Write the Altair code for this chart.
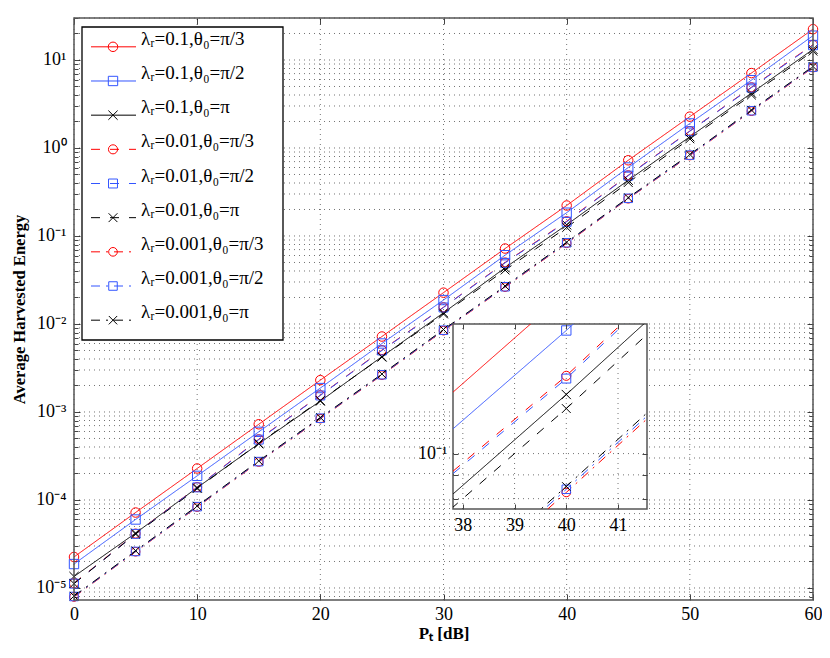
import altair as alt
import pandas as pd

# ---------------- data ----------------
P_dB = [0, 5, 10, 15, 20, 25, 30, 35, 40, 45, 50, 55, 60]

series = [
    "λᵣ=0.1,θ₀=π/3", "λᵣ=0.1,θ₀=π/2", "λᵣ=0.1,θ₀=π",
    "λᵣ=0.01,θ₀=π/3", "λᵣ=0.01,θ₀=π/2", "λᵣ=0.01,θ₀=π",
    "λᵣ=0.001,θ₀=π/3", "λᵣ=0.001,θ₀=π/2", "λᵣ=0.001,θ₀=π",
]

E_01_pi3 = [2.25e-5, 7.2e-5, 2.28e-4, 7.25e-4, 2.3e-3, 7.2e-3, 2.27e-2, 7.2e-2, 0.222, 0.725, 2.27, 7.1, 22.4]
E_01_pi2 = [1.87e-5, 6.0e-5, 1.88e-4, 5.95e-4, 1.87e-3, 6.0e-3, 1.87e-2, 6.05e-2, 0.184, 0.60, 1.9, 5.9, 18.9]
E_01_pi = [1.35e-5, 4.2e-5, 1.38e-4, 4.35e-4, 1.33e-3, 4.25e-3, 1.34e-2, 4.35e-2, 0.134, 0.43, 1.34, 4.2, 13.2]
E_001_pi3 = [1.13e-5, 4.15e-5, 1.40e-4, 4.9e-4, 1.55e-3, 5.05e-3, 1.55e-2, 5.0e-2, 0.147, 0.49, 1.56, 4.9, 14.9]
E_001_pi2 = [1.12e-5, 4.12e-5, 1.39e-4, 4.85e-4, 1.54e-3, 5.0e-3, 1.54e-2, 4.95e-2, 0.145, 0.485, 1.55, 4.85, 14.7]
E_001_pi = [1.12e-5, 4.1e-5, 1.35e-4, 4.4e-4, 1.35e-3, 4.2e-3, 1.30e-2, 4.1e-2, 0.125, 0.405, 1.27, 4.0, 12.6]
E_0001_pi3 = [7.9e-6, 2.58e-5, 8.3e-5, 2.7e-4, 8.4e-4, 2.62e-3, 8.4e-3, 2.62e-2, 0.0825, 0.265, 0.82, 2.62, 8.2]
E_0001_pi2 = [8.0e-6, 2.6e-5, 8.4e-5, 2.73e-4, 8.5e-4, 2.65e-3, 8.5e-3, 2.65e-2, 0.0838, 0.268, 0.83, 2.65, 8.3]
E_0001_pi = [8.1e-6, 2.65e-5, 8.55e-5, 2.78e-4, 8.65e-4, 2.7e-3, 8.65e-3, 2.7e-2, 0.085, 0.273, 0.845, 2.7, 8.45]

values = [E_01_pi3, E_01_pi2, E_01_pi, E_001_pi3, E_001_pi2, E_001_pi,
          E_0001_pi3, E_0001_pi2, E_0001_pi]

# axes / tick labels
x_domain = [0, 60]
y_domain = [7.3e-6, 30]
x_ticks = [0, 10, 20, 30, 40, 50, 60]
y_decades = [1e-5, 1e-4, 1e-3, 1e-2, 1e-1, 1, 10]
y_dec_labels = ["10⁻⁵", "10⁻⁴", "10⁻³", "10⁻²", "10⁻¹", "10⁰", "10¹"]
inset_x_domain = [37.81, 41.56]
inset_y_domain = [0.076, 0.19]
inset_x_ticks = [38, 39, 40, 41]
inset_y_ticks = [0.08, 0.09, 0.1]
inset_y_label = "10⁻¹"

# ---------------- styles / geometry ----------------
FONT = "Liberation Serif"
colors = ["#ff0000", "#3355ff", "#000000"] * 3
dashes = [[1, 0]] * 3 + [[9, 10]] * 3 + [[9, 6, 2, 6]] * 3
XPATH = "M-1,-1L1,1M-1,1L1,-1"
shapes = ["circle", "square", XPATH] * 3
sizes = [90, 70, 60] * 3
FRAME = "#555555"
GRID_STYLE = dict(strokeDash=[1, 4], color="#000000", opacity=0.55, strokeWidth=1)

# view = inset panel (194 x 185); main plot expressed relative to it
IW, IH = 194, 185
ML, MT, MW, MH = -379, -306, 739, 582        # main plot box relative to inset origin
MR, MB = ML + MW, MT + MH
PAD_L, PAD_T = 445, 316
PAD_R, PAD_B = 814 - PAD_L - IW, 642 - PAD_T - IH

rows = []
for name, vals in zip(series, values):
    for p, v in zip(P_dB, vals):
        rows.append({"P": p, "E": v, "series": name})
df = pd.DataFrame(rows)
df_in = df[(df["P"] >= 35) & (df["P"] <= 45)]

color_enc = alt.Color("series:N", scale=alt.Scale(domain=series, range=colors), legend=None)
dash_enc = alt.StrokeDash("series:N", scale=alt.Scale(domain=series, range=dashes), legend=None)
shape_enc = alt.Shape("series:N", scale=alt.Scale(domain=series, range=shapes), legend=None)
size_enc = alt.Size("series:N", scale=alt.Scale(domain=series, range=sizes), legend=None)


def mxs():
    return alt.Scale(domain=x_domain, range=[ML, MR], nice=False, zero=False)


def mys():
    return alt.Scale(type="log", domain=y_domain, range=[MB, MT], nice=False)


def ixs():
    return alt.Scale(domain=inset_x_domain, range=[0, IW], nice=False, zero=False)


def iys():
    return alt.Scale(type="log", domain=inset_y_domain, range=[IH, 0], nice=False)


def tick_axis(orient, vals, size, offset, z=0):
    return alt.Axis(orient=orient, values=vals, offset=offset - size, tickSize=size,
                    tickColor="#444444", tickWidth=1, labels=False, domain=False,
                    grid=False, title=None, zindex=z)


# ---------------- main panel ----------------
y_minor = [m * 10.0 ** e for e in range(-6, 2) for m in range(2, 10)
           if y_domain[0] <= m * 10.0 ** e <= y_domain[1]]
arr = "[" + ",".join("'%s'" % s for s in y_dec_labels) + "]"
lg = "(log(datum.value)/LN10)"
y_label_expr = "abs(%s - round(%s)) < 0.001 ? %s[round(%s) + 5] : ''" % (lg, lg, arr, lg)

off_left, off_right = -ML, MR - IW
off_top, off_bottom = -MT, MB - IH

x_axis_main = alt.Axis(orient="bottom", offset=off_bottom, values=x_ticks, ticks=False, domain=False,
                       grid=False, labelFont=FONT, labelFontSize=18, labelPadding=5, labelFlush=False,
                       labelColor="#000000", labelOverlap=False,
                       title="Pₜ [dB]", titleFont=FONT, titleFontSize=17, titleFontWeight="bold",
                       titleColor="#000000", titlePadding=2, zindex=0)
y_axis_main = alt.Axis(orient="left", offset=off_left, values=y_decades, ticks=False,
                       domain=False, grid=False, labelExpr=y_label_expr, labelFont=FONT, labelFontSize=18,
                       labelPadding=8, labelColor="#000000", labelOverlap=False,
                       title="Average Harvested Energy", titleFont=FONT, titleFontSize=16.5,
                       titleFontWeight="bold", titleColor="#000000", titlePadding=8, zindex=0)

# grid lines (dotted) drawn from the tick value lists
vgrid_df = pd.DataFrame({"x": x_ticks, "y0": y_domain[0], "y1": y_domain[1]})
hgrid_df = pd.DataFrame({"y": y_decades + y_minor, "x0": x_domain[0], "x1": x_domain[1]})
m_vgrid = alt.Chart(vgrid_df).mark_rule(**GRID_STYLE).encode(
    x=alt.X("x:Q", scale=mxs(), axis=None),
    y=alt.Y("y0:Q", scale=mys(), axis=None), y2="y1:Q")
m_hgrid = alt.Chart(hgrid_df).mark_rule(**GRID_STYLE).encode(
    y=alt.Y("y:Q", scale=mys(), axis=None),
    x=alt.X("x0:Q", scale=mxs(), axis=None), x2="x1:Q")

mb = alt.Chart(df)
m_lines = mb.mark_line(strokeWidth=1).encode(
    x=alt.X("P:Q", scale=mxs(), axis=x_axis_main),
    y=alt.Y("E:Q", scale=mys(), axis=y_axis_main),
    color=color_enc, strokeDash=dash_enc)
m_pts = mb.mark_point(filled=False, strokeWidth=1, opacity=1).encode(
    x=alt.X("P:Q", scale=mxs(), axis=tick_axis("bottom", x_ticks, 6, off_bottom)),
    y=alt.Y("E:Q", scale=mys(), axis=tick_axis("left", y_decades, 6, off_left)),
    color=color_enc, shape=shape_enc, size=size_enc)
m_h1 = mb.mark_point(opacity=0).encode(
    x=alt.X("P:Q", scale=mxs(), axis=tick_axis("top", x_ticks, 6, off_top)),
    y=alt.Y("E:Q", scale=mys(), axis=tick_axis("right", y_decades, 6, off_right)))
m_h2 = mb.mark_point(opacity=0).encode(
    x=alt.X("P:Q", scale=mxs(), axis=None),
    y=alt.Y("E:Q", scale=mys(), axis=tick_axis("left", y_minor, 4, off_left)))
m_h3 = mb.mark_point(opacity=0).encode(
    x=alt.X("P:Q", scale=mxs(), axis=None),
    y=alt.Y("E:Q", scale=mys(), axis=tick_axis("right", y_minor, 4, off_right)))

frame_df = pd.DataFrame({"x0": [x_domain[0]], "x1": [x_domain[1]], "y0": [y_domain[0]], "y1": [y_domain[1]]})
m_frame = alt.Chart(frame_df).mark_rect(fillOpacity=0, stroke=FRAME, strokeWidth=1.5).encode(
    x=alt.X("x0:Q", scale=mxs(), axis=None), x2="x1:Q",
    y=alt.Y("y0:Q", scale=mys(), axis=None), y2="y1:Q")

# ---------------- legend ----------------
LX = ML + 8            # legend box left (relative)
LT = MT + 9            # legend box top
LW, LH = 201, 313
leg_df = pd.DataFrame({"series": series, "i": list(range(len(series)))})
leg_y = alt.Y("i:Q", scale=alt.Scale(domain=[-0.58, 8.58], range=[LT, LT + LH], nice=False, zero=False),
              axis=None)
box_df = pd.DataFrame({"a": [0]})
leg_box = alt.Chart(box_df).mark_rect(fill="white", stroke="#000000", strokeWidth=1.3).encode(
    x=alt.value(LX), x2=alt.value(LX + LW), y=alt.value(LT), y2=alt.value(LT + LH))
leg = alt.Chart(leg_df)
leg_rules = leg.mark_rule(strokeWidth=1).encode(
    x=alt.value(LX + 9), x2=alt.value(LX + 54), y=leg_y, color=color_enc, strokeDash=dash_enc)
leg_pts = leg.mark_point(filled=False, strokeWidth=1, opacity=1).encode(
    x=alt.value(LX + 31), y=leg_y, color=color_enc, shape=shape_enc, size=size_enc)
leg_txt = leg.mark_text(align="left", baseline="alphabetic", font=FONT, fontSize=19, dy=-2,
                        color="#000000").encode(x=alt.value(LX + 59), y=leg_y, text="series:N")

# ---------------- inset ----------------
cover_df = pd.DataFrame({"x0": [inset_x_domain[0]], "x1": [inset_x_domain[1]],
                         "y0": [inset_y_domain[0]], "y1": [inset_y_domain[1]]})
i_cover = alt.Chart(cover_df).mark_rect(fill="white", stroke=FRAME, strokeWidth=1.5).encode(
    x=alt.X("x0:Q", scale=ixs(), axis=None), x2="x1:Q",
    y=alt.Y("y0:Q", scale=iys(), axis=None), y2="y1:Q")

ivgrid_df = pd.DataFrame({"x": inset_x_ticks, "y0": inset_y_domain[0], "y1": inset_y_domain[1]})
ihgrid_df = pd.DataFrame({"y": inset_y_ticks, "x0": inset_x_domain[0], "x1": inset_x_domain[1]})
i_vgrid = alt.Chart(ivgrid_df).mark_rule(**GRID_STYLE).encode(
    x=alt.X("x:Q", scale=ixs(), axis=None),
    y=alt.Y("y0:Q", scale=iys(), axis=None), y2="y1:Q")
i_hgrid = alt.Chart(ihgrid_df).mark_rule(**GRID_STYLE).encode(
    y=alt.Y("y:Q", scale=iys(), axis=None),
    x=alt.X("x0:Q", scale=ixs(), axis=None), x2="x1:Q")

x_axis_in = alt.Axis(orient="bottom", values=inset_x_ticks, ticks=False, domain=False, grid=False,
                     labelFont=FONT, labelFontSize=18, labelPadding=7, labelFlush=False,
                     labelColor="#000000", labelOverlap=False, title=None, zindex=1)
y_axis_in = alt.Axis(orient="left", values=inset_y_ticks, ticks=False, domain=False, grid=False,
                     labelExpr="abs(datum.value - 0.1) < 1e-9 ? '%s' : ''" % inset_y_label,
                     labelFont=FONT, labelFontSize=18, labelPadding=6, labelColor="#000000",
                     labelOverlap=False, title=None, zindex=1)
ib = alt.Chart(df_in)
i_lines = ib.mark_line(strokeWidth=1, clip=True).encode(
    x=alt.X("P:Q", scale=ixs(), axis=x_axis_in),
    y=alt.Y("E:Q", scale=iys(), axis=y_axis_in),
    color=color_enc, strokeDash=dash_enc)
i_pts = ib.mark_point(filled=False, strokeWidth=1, opacity=1, clip=True).encode(
    x=alt.X("P:Q", scale=ixs(), axis=tick_axis("bottom", inset_x_ticks, 5, 0, 1)),
    y=alt.Y("E:Q", scale=iys(), axis=tick_axis("left", inset_y_ticks, 5, 0, 1)),
    color=color_enc, shape=shape_enc, size=size_enc)
i_h1 = ib.mark_point(opacity=0, clip=True).encode(
    x=alt.X("P:Q", scale=ixs(), axis=tick_axis("top", inset_x_ticks, 5, 0, 1)),
    y=alt.Y("E:Q", scale=iys(), axis=tick_axis("right", inset_y_ticks, 5, 0, 1)))

chart = alt.layer(
    m_vgrid, m_hgrid, m_lines, m_pts, m_h1, m_h2, m_h3, m_frame,
    leg_box, leg_rules, leg_pts, leg_txt,
    i_cover, i_vgrid, i_hgrid, i_lines, i_pts, i_h1,
).resolve_scale(x="independent", y="independent").resolve_axis(
    x="independent", y="independent"
).properties(
    width=IW, height=IH,
    autosize=alt.AutoSizeParams(type="none"),
    padding={"left": PAD_L, "top": PAD_T, "right": PAD_R, "bottom": PAD_B},
    background="white",
).configure_view(stroke="transparent").configure_axis(labelFont=FONT, titleFont=FONT)

chart.save("out.html", embed_options={"renderer": "svg", "actions": False})
